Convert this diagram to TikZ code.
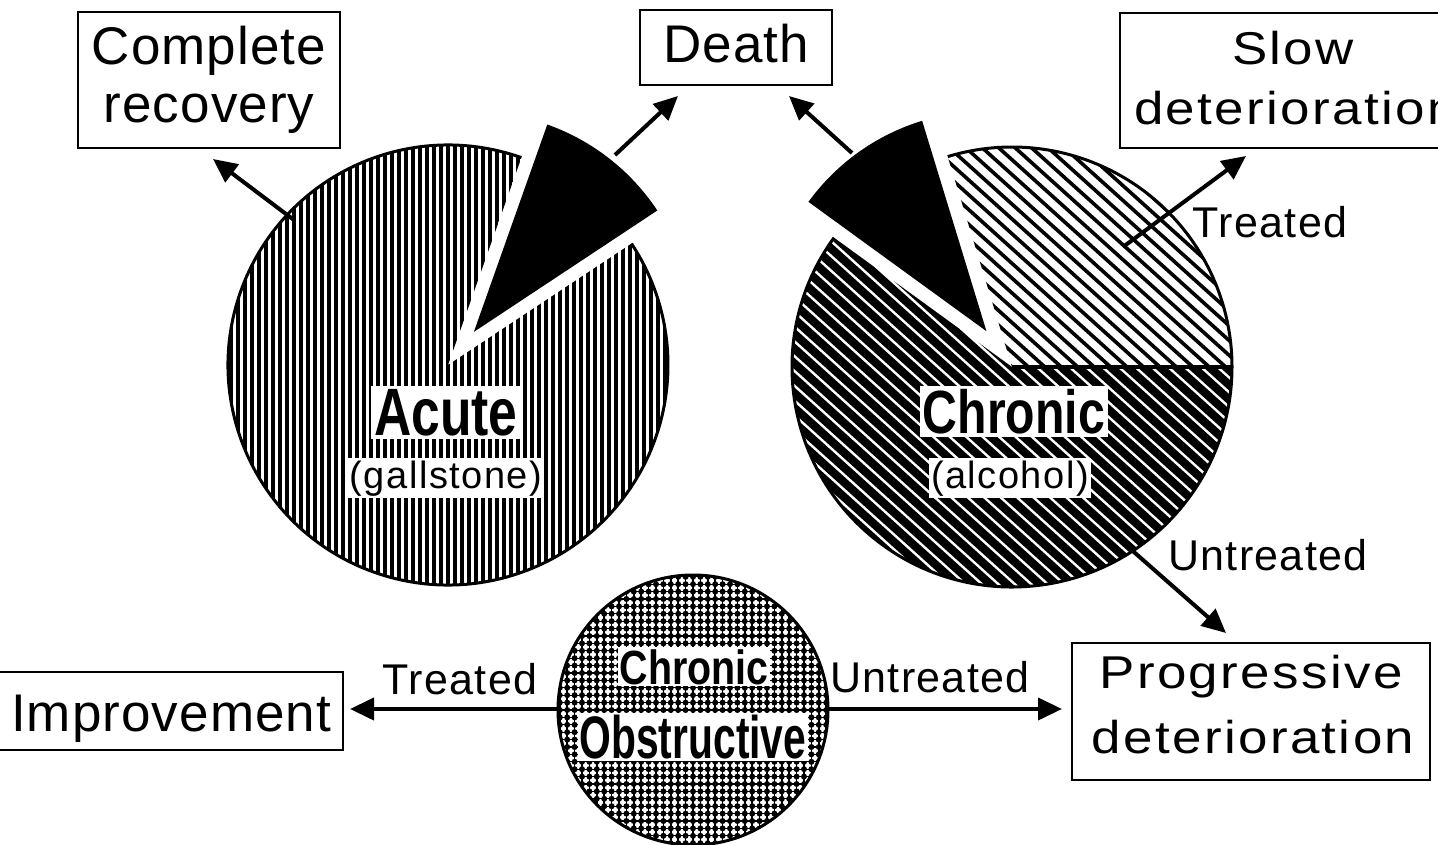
\documentclass[tikz,border=0pt]{standalone}
\usepackage{fontspec}
\setmainfont{Liberation Sans}
\usepackage{graphicx}
\usetikzlibrary{arrows.meta}
\newcommand\widen[1]{\scalebox{1.15}[1]{#1}}
\begin{document}
\begin{tikzpicture}[x=1pt,y=1pt,
  boxn/.style={draw, line width=2.5pt, rectangle, inner sep=0pt},
  arr/.style={line width=4pt, -{Triangle[length=24pt,width=22pt]}},
  hatchA/.style={line width=3.3pt},
  hatchL/.style={line width=3.6pt},
  hatchD/.style={line width=8.3pt},
  rim/.style={line width=3pt},
  bigtxt/.style={inner sep=0pt, anchor=base, font=\fontsize{53}{60}\selectfont\addfontfeatures{LetterSpace=2}},
  midtxt/.style={inner sep=0pt, anchor=base, font=\fontsize{46}{52}\selectfont\addfontfeatures{LetterSpace=4.5}},
  smalltxt/.style={inner sep=0pt, anchor=base, font=\fontsize{43}{50}\selectfont\addfontfeatures{LetterSpace=3}},
  pielab/.style={inner sep=3pt, anchor=base, fill=white},
  subtxt/.style={inner sep=2pt, anchor=base, fill=white, font=\fontsize{38}{44}\selectfont\addfontfeatures{LetterSpace=4}}
]
\useasboundingbox (0,0) rectangle (1438,-845);
\clip (0,0) rectangle (1438,-845);
\fill[white] (0,0) rectangle (1438,-845);

% ---------- Acute pie ----------
\coordinate (A) at (448,-365);
\begin{scope}[shift={(448,-365)}]
  \begin{scope}
    \clip (0,0) -- (70.5:220) arc[start angle=70.5,end angle=393.5,radius=220] -- cycle;
    \foreach \i in {-32,...,32} \draw[hatchA] (\i*7,-225) -- (\i*7,225);
  \end{scope}
  \draw[rim] (70.5:220) arc[start angle=70.5,end angle=393.5,radius=220];
  \fill[black] (52:42) -- ++(70.5:220) arc[start angle=70.5,end angle=33.5,radius=220] -- cycle;
\end{scope}

% ---------- Chronic pie ----------
\coordinate (C) at (1012,-367);
\begin{scope}[shift={(1012,-367)}]
  \begin{scope}
    \clip (0,0) -- (0:220) arc[start angle=0,end angle=107,radius=220] -- cycle;
    \foreach \t in {-242,-231,...,242} \draw[hatchL] (48:\t) ++(138:320) -- ++(-42:640);
  \end{scope}
  \begin{scope}
    \clip (0,0) -- (144:220) arc[start angle=144,end angle=360,radius=220] -- cycle;
    \foreach \t in {-242,-231,...,242} \draw[hatchD] (48:\t) ++(138:320) -- ++(-42:640);
  \end{scope}
  \draw[rim] (0:220) arc[start angle=0,end angle=107,radius=220];
  \draw[rim] (144:220) arc[start angle=144,end angle=360,radius=220];
  \draw[line width=4.5pt] (0,0) -- (0:220);
  \fill[black] (125.5:44) -- ++(144:220) arc[start angle=144,end angle=107,radius=220] -- cycle;
\end{scope}

% ---------- Chronic obstructive circle ----------
\coordinate (O) at (693,-710);
\begin{scope}[shift={(693,-710)}]
  \begin{scope}
    \clip (0,0) circle[radius=135];
    \foreach \x in {-19,...,19} \draw[line width=1.6pt] (\x*7.4,-140) -- (\x*7.4,140);
    \foreach \y in {-19,...,19} \draw[line width=1.2pt] (-140,\y*7.4) -- (140,\y*7.4);
    \foreach \x in {-19,...,19} \foreach \y in {-19,...,19} \fill (\x*7.4,\y*7.4) circle[radius=3.0];
  \end{scope}
  \draw[rim] (0,0) circle[radius=135];
\end{scope}

% ---------- boxes ----------
\node[boxn, minimum width=262, minimum height=136] (crbox) at (209,-80) {};
\node[boxn, minimum width=192, minimum height=75] (dbox) at (736,-47.5) {};
\node[boxn, minimum width=340, minimum height=135] (sbox) at (1290,-80.5) {};
\node[boxn, minimum width=348, minimum height=78] (ibox) at (169,-711) {};
\node[boxn, minimum width=358, minimum height=137] (pbox) at (1251,-711.5) {};

% ---------- arrow ends ----------
\coordinate (crS) at (294,-220); \coordinate (crE) at (213,-159);
\coordinate (daS) at (615,-155); \coordinate (daE) at (678,-96);
\coordinate (dcS) at (852,-153); \coordinate (dcE) at (789,-96);
\coordinate (slS) at (1123,-247); \coordinate (slE) at (1246,-156);
\coordinate (unS) at (1118,-538); \coordinate (unE) at (1226,-633);
\coordinate (imS) at (558,-709); \coordinate (imE) at (350,-709);
\coordinate (prS) at (828,-709); \coordinate (prE) at (1062,-709);

\draw[arr] (crS) -- (crE);
\draw[arr] (daS) -- (daE);
\draw[arr] (dcS) -- (dcE);
\draw[arr] (slS) -- (slE);
\draw[arr] (unS) -- (unE);
\draw[arr] (imS) -- (imE);
\draw[arr] (prS) -- (prE);

% ---------- texts ----------
\node[bigtxt] (t1) at (209,-65) {Complete};
\node[bigtxt] (t2) at (209,-123) {recovery};
\node[bigtxt] (t3) at (736,-63) {Death};
\node[midtxt] (t4) at (1293,-65) {\widen{Slow}};
\node[midtxt, anchor=base west] (t5) at (1134,-125) {\widen{deterioration}};
\node[midtxt] (t6) at (1251,-688) {\widen{Progressive}};
\node[midtxt] (t7) at (1253,-753) {\widen{deterioration}};
\node[bigtxt, anchor=base west] (t8) at (11,-731) {Improvement};

\node[smalltxt] (l1) at (1270,-238) {Treated};
\node[smalltxt] (l2) at (1268,-570) {Untreated};
\node[smalltxt] (l3) at (460,-694) {Treated};
\node[smalltxt] (l4) at (930,-692) {Untreated};

\node[pielab] (acute) at (446,-435) {\scalebox{0.77}[1]{\fontsize{67}{70}\selectfont\bfseries Acute}};
\node[subtxt] (gall) at (446,-488) {(gallstone)};
\node[pielab] (chron) at (1014,-433) {\scalebox{0.79}[1]{\fontsize{61}{66}\selectfont\bfseries Chronic}};
\node[subtxt] (alc) at (1010,-488) {(alcohol)};
\node[pielab, inner sep=2pt] (co1) at (694,-684) {\scalebox{0.82}[1]{\fontsize{48}{52}\selectfont\bfseries Chronic}};
\node[pielab, inner sep=2pt] (co2) at (693,-758) {\scalebox{0.68}[1]{\fontsize{60}{64}\selectfont\bfseries Obstructive}};
\end{tikzpicture}
\end{document}
